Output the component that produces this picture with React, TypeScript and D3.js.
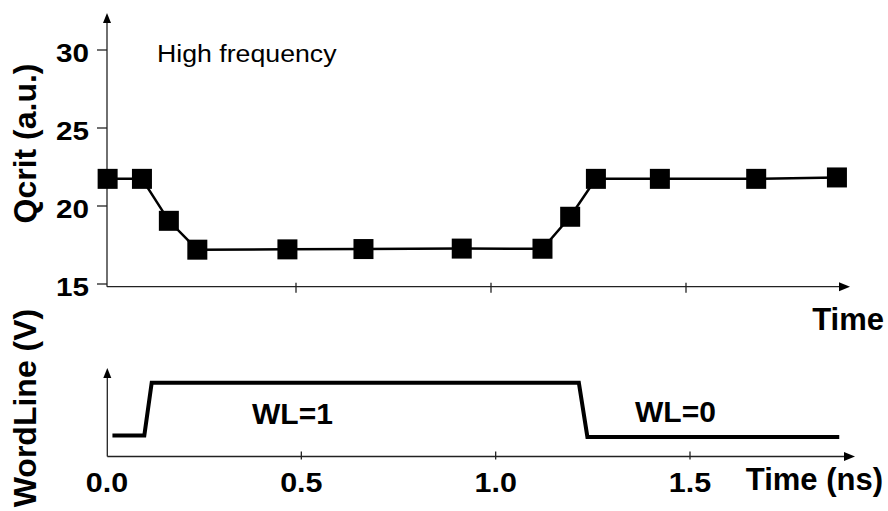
import * as d3 from 'd3';

// Qcrit (a.u.) vs time, high frequency
const qcritTime = [0.017, 0.105, 0.174, 0.247, 0.478, 0.673, 0.925, 1.132, 1.203, 1.269, 1.433, 1.68, 1.887];
const qcritValue = [21.74, 21.74, 19.05, 17.2, 17.22, 17.24, 17.27, 17.26, 19.31, 21.74, 21.74, 21.74, 21.83];
const qcritTicks = [15, 20, 25, 30];
const topTimeTicks = [0.5, 1.0, 1.5];

// wordline waveform
const wlTime = [0.014, 0.096, 0.115, 1.214, 1.236, 1.884];
const wlLevel = [0.28, 0.28, 1.0, 1.0, 0.26, 0.26];
const timeTicks = [0, 0.5, 1.0, 1.5];

const W = 888;
const H = 511;
const FONT = 'Arial, "Liberation Sans", sans-serif';
const AXIS = '#222';

const xTop = d3.scaleLinear().domain([0, 1.5]).range([101, 686]);
const yQ = d3.scaleLinear().domain([15, 30]).range([284, 50]);
const xBot = d3.scaleLinear().domain([0, 1.5]).range([107, 690]);
const yW = d3.scaleLinear().domain([0, 1.2]).range([456, 368]);

const qLine = d3.line<number>()
  .x((_, i) => xTop(qcritTime[i]))
  .y((d) => yQ(d));

const wlLine = d3.line<number>()
  .x((_, i) => xBot(wlTime[i]))
  .y((d) => yW(d));

const fmt = d3.format('.1f');

// the original text is a bit wider than Arial, stretch it horizontally
const stretched = (x: number, y: number, sx: number) => `translate(${x},${y}) scale(${sx},1)`;

export default function App() {
  // axis positions
  const topAxisX = 107;
  const topAxisY = 286.7;
  const botAxisX = 107.3;
  const botAxisY = 456.5;

  return (
    <svg width={W} height={H} style={{ position: 'absolute', left: 0, top: 0, background: '#fff' }}
      fontFamily={FONT}>
      {/* ---- top panel ---- */}
      <line x1={topAxisX} y1={topAxisY} x2={topAxisX} y2={22} stroke={AXIS} strokeWidth={1.3} />
      <polygon points={`${topAxisX},13 ${topAxisX - 4},23 ${topAxisX + 4},23`} fill="#000" />
      <line x1={topAxisX} y1={topAxisY} x2={840} y2={topAxisY} stroke={AXIS} strokeWidth={1.3} />
      <polygon points={`850,${topAxisY} 839,${topAxisY - 4.5} 839,${topAxisY + 4.5}`} fill="#000" />

      {qcritTicks.map((t) => (
        <g key={t}>
          <line x1={topAxisX - 10} x2={topAxisX} y1={yQ(t)} y2={yQ(t)} stroke={AXIS} strokeWidth={1.3} />
          <text transform={stretched(89, yQ(t) + 11.5, 1.12)} textAnchor="end" fontSize={26.5} fontWeight="bold">{t}</text>
        </g>
      ))}
      {topTimeTicks.map((t) => (
        <line key={t} x1={xTop(t)} x2={xTop(t)} y1={topAxisY - 4} y2={topAxisY + 6} stroke={AXIS} strokeWidth={1.3} />
      ))}

      <path d={qLine(qcritValue) || ''} fill="none" stroke="#000" strokeWidth={2.5} />
      {qcritValue.map((v, i) => (
        <rect key={i} x={xTop(qcritTime[i]) - 10} y={yQ(v) - 10} width={20} height={20} fill="#000" />
      ))}

      <text transform={stretched(157, 62, 1.09)} fontSize={24.5}>High frequency</text>
      <text transform="translate(35.5,143.5) rotate(-90)" textAnchor="middle" fontSize={32} fontWeight="bold">Qcrit (a.u.)</text>
      <text x={884} y={330} textAnchor="end" fontSize={31} fontWeight="bold">Time</text>

      {/* ---- bottom panel ---- */}
      <line x1={botAxisX} y1={botAxisY} x2={botAxisX} y2={377} stroke={AXIS} strokeWidth={1.3} />
      <polygon points={`${botAxisX},368 ${botAxisX - 4},378 ${botAxisX + 4},378`} fill="#000" />
      <line x1={botAxisX} y1={botAxisY} x2={845} y2={botAxisY} stroke={AXIS} strokeWidth={1.3} />
      <polygon points={`855,${botAxisY} 844,${botAxisY - 4.5} 844,${botAxisY + 4.5}`} fill="#000" />

      {timeTicks.map((t) => (
        <g key={t}>
          {t > 0 && (
            <line x1={xBot(t)} x2={xBot(t)} y1={botAxisY - 5} y2={botAxisY + 3} stroke={AXIS} strokeWidth={1.3} />
          )}
          <text transform={stretched(xBot(t), 491.5, 1.13)} textAnchor="middle" fontSize={27} fontWeight="bold">{fmt(t)}</text>
        </g>
      ))}

      <path d={wlLine(wlLevel) || ''} fill="none" stroke="#000" strokeWidth={4} strokeLinejoin="miter" />

      <text x={252} y={424} fontSize={30} fontWeight="bold">WL=1</text>
      <text x={635} y={422} fontSize={30} fontWeight="bold">WL=0</text>
      <text transform="translate(35.5,408) rotate(-90)" textAnchor="middle" fontSize={32} fontWeight="bold">WordLine (V)</text>
      <text x={883} y={490} textAnchor="end" fontSize={31} fontWeight="bold">Time (ns)</text>
    </svg>
  );
}
